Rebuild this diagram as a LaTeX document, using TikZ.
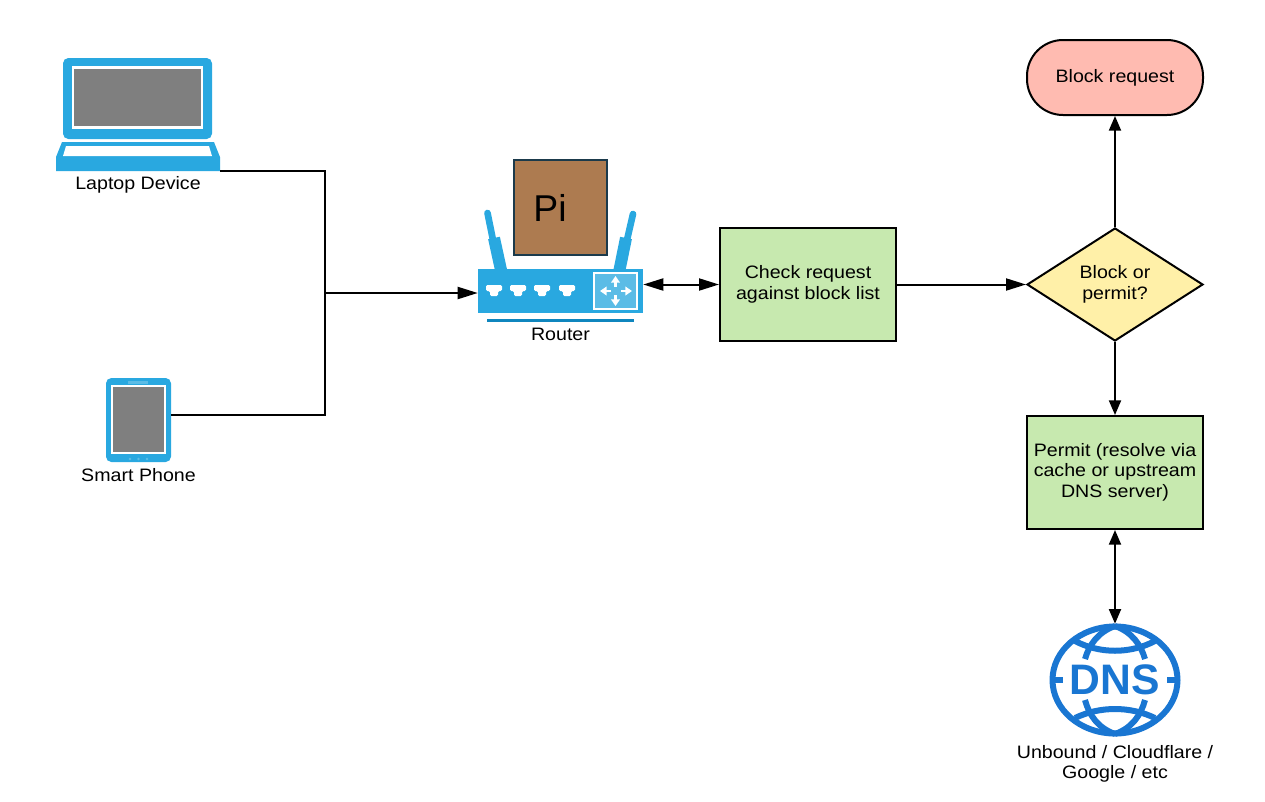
\documentclass[tikz,border=0pt]{standalone}
\usepackage{fontspec}
\setmainfont[FakeStretch=1.09]{Liberation Sans}
\newfontfamily\plainfont{Liberation Sans}
\usetikzlibrary{shapes.geometric, arrows.meta, positioning}

\definecolor{iconblue}{HTML}{29A8E0}
\definecolor{icondark}{HTML}{0F86BE}
\definecolor{iconlight}{HTML}{5BBCE6}
\definecolor{screengrey}{HTML}{7F7F7F}
\definecolor{piborder}{HTML}{1B3A4B}
\definecolor{pibrown}{HTML}{AD7B50}
\definecolor{stepgreen}{HTML}{C7E9AF}
\definecolor{blockred}{HTML}{FFBBB1}
\definecolor{choiceyellow}{HTML}{FFF0A8}
\definecolor{dnsblue}{HTML}{1976D2}

\begin{document}
\begin{tikzpicture}[
    x=0.75pt, y=-0.75pt,
    font=\fontsize{13.5}{15.4}\selectfont,
    stepbox/.style={rectangle, draw=black, line width=1.5pt, fill=stepgreen, minimum width=132pt, minimum height=84.75pt, inner sep=0pt, text centered, align=center},
    blockbox/.style={rectangle, rounded corners=27pt, draw=black, line width=1.5pt, fill=blockred, minimum width=132pt, minimum height=56.25pt, inner sep=0pt, text centered, align=center},
    choice/.style={diamond, draw=black, line width=1.5pt, fill=choiceyellow, minimum width=132pt, minimum height=84.75pt, inner sep=0pt, text centered, align=center},
    icon/.style={rectangle, inner sep=0pt},
    caption/.style={inner sep=0pt, align=center},
    wire/.style={line width=1.5pt},
    arrow/.style={line width=1.5pt,-{Triangle[length=11pt,width=9pt]}},
    sidearrow/.style={line width=1.5pt,-{Triangle[length=15pt,width=9pt]}},
    biarrow/.style={line width=1.5pt,{Triangle[length=11pt,width=9pt]}-{Triangle[length=11pt,width=9pt]}},
    sidebiarrow/.style={line width=1.5pt,{Triangle[length=15pt,width=9pt]}-{Triangle[length=15pt,width=9pt]}},
    whitearrow/.style={white, line width=1.8pt, -{Triangle[length=5pt,width=6.5pt]}}
]
\useasboundingbox (0,0) rectangle (1265,801);

% Icon areas
\node[icon, minimum width=123pt, minimum height=84.75pt] (laptop) at (138,114.5) {};
\node[icon, minimum width=49.5pt, minimum height=63pt] (phone) at (138.5,420) {};
\node[icon, minimum width=123.75pt, minimum height=33pt] (router) at (560.5,291) {};
\node[icon, minimum width=97.5pt, minimum height=84pt] (dns) at (1115,680) {};

% Laptop
\fill[iconblue, rounded corners=4pt] (63,58) rectangle (212,139);
\fill[white] (72,66) rectangle (203,129);
\fill[screengrey] (74,69) rectangle (201,126);
\fill[iconblue] (56,171) -- (56,157) -- (62,142) -- (214,142) -- (220,157) -- (220,171) -- cycle;
\fill[white] (66,146) -- (209,146) -- (212,156) -- (63,156) -- cycle;

% Phone
\fill[iconblue, rounded corners=4pt] (106,378) rectangle (171,462);
\fill[white] (111,385) rectangle (166,454);
\fill[screengrey] (113,387) rectangle (164,452);
\fill[iconlight] (128,381) rectangle (148,383.5);
\foreach \dotx in {130,138.5,147}
    \fill[iconlight] (\dotx,459) circle (1pt);

% Router
\draw[iconblue, line width=5pt, line cap=round] (487.5,213) -- (493,240);
\draw[iconblue, line width=9pt] (494,238) -- (501,270);
\draw[iconblue, line width=5pt, line cap=round] (633,214) -- (627,240);
\draw[iconblue, line width=9pt] (626,238) -- (619.5,270);
\fill[iconblue] (router.north west) rectangle (router.south east);
\foreach \portx in {494,518,542,567}
    \fill[white, rounded corners=1pt] (\portx-8,285) -- (\portx+8,285) -- (\portx+8,291) -- (\portx+4,291) -- (\portx+4,296) -- (\portx-4,296) -- (\portx-4,291) -- (\portx-8,291) -- cycle;
\fill[iconlight, draw=white, line width=1pt] (594,273) rectangle (637,309);
\foreach \tipx/\tipy/\tailx/\taily in {615.5/276/615.5/287, 615.5/306/615.5/295, 600/291/611/291, 632/291/621/291}
    \draw[whitearrow] (\tailx,\taily) -- (\tipx,\tipy);
\fill[icondark] (487,318.5) rectangle (634,321.5);

% Pi box
\node[rectangle, draw=piborder, line width=1pt, fill=pibrown, minimum width=69.75pt, minimum height=71.25pt, inner sep=0pt] (pi) at (560.5,207.5) {};
\node[inner sep=0pt, font=\fontsize{28}{30}\plainfont] (pilabel) at (550,208) {Pi};

% DNS globe
\begin{scope}[dnsblue, line width=4.5pt]
\draw (dns.center) ellipse [x radius=62.5, y radius=53.5];
\draw (1075,641) .. controls (1100,654) and (1130,654) .. (1155,641);
\draw (1075,718) .. controls (1100,706) and (1130,706) .. (1155,718);
\draw (1115,626) .. controls (1098,632) and (1089,645) .. (1085,659);
\draw (1115,626) .. controls (1132,632) and (1141,645) .. (1145,659);
\draw (1115,734) .. controls (1098,728) and (1089,715) .. (1085,700);
\draw (1115,734) .. controls (1132,728) and (1141,715) .. (1145,700);
\draw (1050,680) -- (1063,680);
\draw (1167,680) -- (1180,680);
\end{scope}
\node[inner sep=0pt, text=dnsblue, font=\fontsize{32}{34}\plainfont\bfseries] (dnstext) at (dns.center) {DNS};

% Flow boxes
\node[stepbox] (check) at (808,284.5) {Check request\\against block list};
\node[choice] (choose) at (1115,284.5) {Block or\\permit?};
\node[blockbox] (block) at (1115,77.5) {\raisebox{3pt}{Block request}};
\node[stepbox] (permit) at (1115,472.5) {\raisebox{-0.7pt}{\begin{tabular}{@{}c@{}}Permit (resolve via\\cache or upstream\\DNS server)\end{tabular}}};

% Captions
\node[caption, below=3.5pt of laptop] (laptoptext) {Laptop Device};
\node[caption, below=4.5pt of phone] (phonetext) {Smart Phone};
\node[caption, below=11pt of router] (routertext) {Router};
\node[caption, below=6.5pt of dns] (dnscaption) {Unbound / Cloudflare /\\Google / etc};

% Connections
\coordinate (junction) at (325,293);
\coordinate (phoneport) at (171,415);
\draw[wire] (laptop.south east) -| (junction);
\draw[wire] (phoneport) -| (junction);
\draw[sidearrow] (junction) -- (junction -| router.west);
\draw[sidebiarrow] (router.east |- check.west) -- (check.west);
\draw[sidearrow] (check) -- (choose);
\draw[arrow] (choose) -- (block);
\draw[arrow] (choose) -- (permit);
\draw[biarrow] (permit) -- (dns);

\end{tikzpicture}
\end{document}
